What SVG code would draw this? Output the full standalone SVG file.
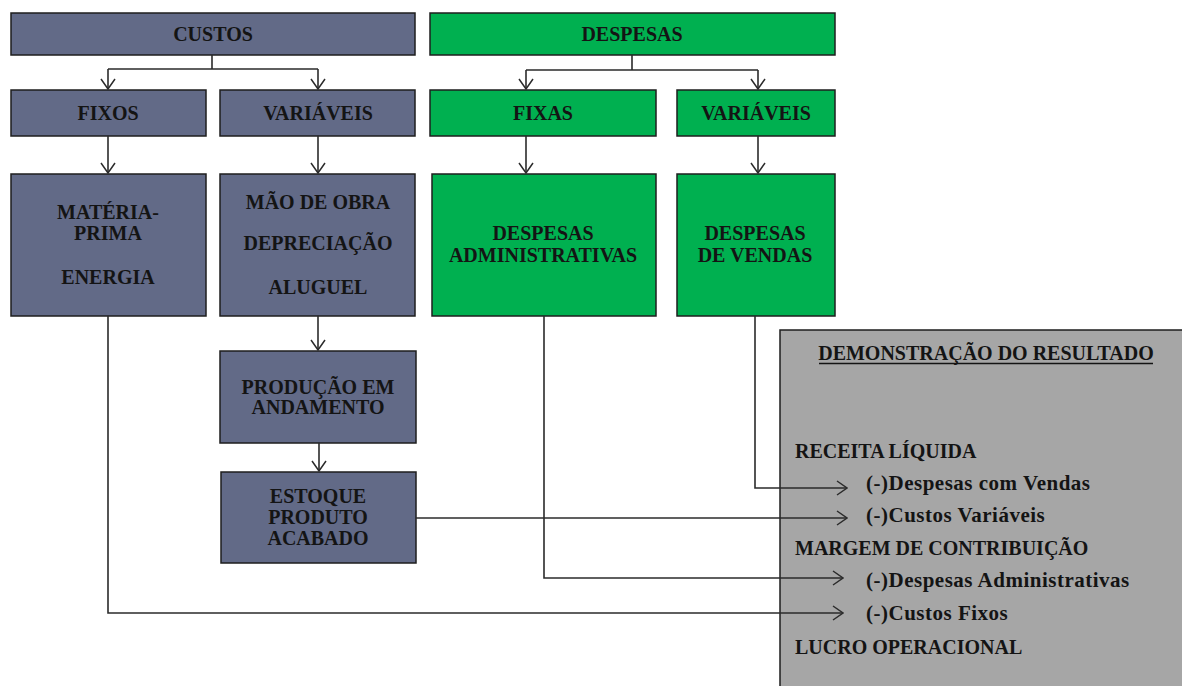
<svg xmlns="http://www.w3.org/2000/svg" width="1182" height="686" viewBox="0 0 1182 686">
<defs>
<marker id="arr" markerUnits="userSpaceOnUse" viewBox="0 0 12 16" markerWidth="12" markerHeight="16" refX="11" refY="8" orient="auto">
<path d="M1,1 L11,8 L1,15" fill="none" stroke="#2b2b2b" stroke-width="1.5"/>
</marker>
<style>
.c{fill:#626a87;stroke:#1e1e1e;stroke-width:1.5}
.g{fill:#00b050;stroke:#1e1e1e;stroke-width:1.5}
.d{fill:#a6a6a6;stroke:#1e1e1e;stroke-width:1.5}
text{font-family:"Liberation Serif","Times New Roman",serif;font-weight:bold;font-size:20px;fill:#141414}
.m{text-anchor:middle}
.s{font-size:21px;letter-spacing:0.5px}
.l{stroke:#2b2b2b;stroke-width:1.6;fill:none}
.a{marker-end:url(#arr)}
</style>
</defs>
<g id="custos"><rect class="c" x="11" y="13" width="404" height="42"/><text class="m" x="213" y="41">CUSTOS</text></g>
<g id="despesas"><rect class="g" x="430" y="13" width="405" height="42"/><text class="m" x="632" y="41">DESPESAS</text></g>
<g id="custos-fixos"><rect class="c" x="11" y="90" width="195" height="46"/><text class="m" x="108" y="120">FIXOS</text></g>
<g id="custos-variaveis"><rect class="c" x="220" y="90" width="195" height="46"/><text class="m" x="318" y="120">VARIÁVEIS</text></g>
<g id="despesas-fixas"><rect class="g" x="430" y="90" width="226" height="46"/><text class="m" x="543" y="120">FIXAS</text></g>
<g id="despesas-variaveis"><rect class="g" x="677" y="90" width="158" height="46"/><text class="m" x="756" y="120">VARIÁVEIS</text></g>
<g id="materia-prima"><rect class="c" x="11" y="174" width="195" height="142"/>
<text class="m" x="108" y="219">MATÉRIA-</text><text class="m" x="108" y="240">PRIMA</text><text class="m" x="108" y="284">ENERGIA</text></g>
<g id="mao-de-obra"><rect class="c" x="220" y="174" width="195" height="142"/>
<text class="m" x="318" y="209">MÃO DE OBRA</text><text class="m" x="318" y="250">DEPRECIAÇÃO</text><text class="m" x="318" y="294">ALUGUEL</text></g>
<g id="despesas-administrativas"><rect class="g" x="432" y="174" width="224" height="142"/>
<text class="m" x="543" y="240">DESPESAS</text><text class="m" x="543" y="262">ADMINISTRATIVAS</text></g>
<g id="despesas-de-vendas"><rect class="g" x="677" y="174" width="158" height="142"/>
<text class="m" x="755" y="240">DESPESAS</text><text class="m" x="755" y="262">DE VENDAS</text></g>
<g id="producao"><rect class="c" x="220" y="351" width="196" height="92"/>
<text class="m" x="318" y="394">PRODUÇÃO EM</text><text class="m" x="318" y="414">ANDAMENTO</text></g>
<g id="estoque"><rect class="c" x="221" y="472" width="195" height="91"/>
<text class="m" x="318" y="503">ESTOQUE</text><text class="m" x="318" y="524">PRODUTO</text><text class="m" x="318" y="545">ACABADO</text></g>
<g id="dre"><rect class="d" x="780" y="330" width="410" height="370"/>
<text class="m" x="986" y="360">DEMONSTRAÇÃO DO RESULTADO</text>
<line x1="819" y1="363.5" x2="1153" y2="363.5" stroke="#141414" stroke-width="1.3"/>
<text x="795" y="458">RECEITA LÍQUIDA</text>
<text class="s" x="866" y="490">(-)Despesas com Vendas</text>
<text class="s" x="866" y="522">(-)Custos Variáveis</text>
<text x="795" y="555">MARGEM DE CONTRIBUIÇÃO</text>
<text class="s" x="866" y="587">(-)Despesas Administrativas</text>
<text class="s" x="866" y="620">(-)Custos Fixos</text>
<text x="795" y="654">LUCRO OPERACIONAL</text></g>
<g id="connectors">
<path class="l" d="M212,55 V69 M108,69 H318"/>
<path class="l a" d="M108,69 V89"/>
<path class="l a" d="M318,69 V89"/>
<path class="l" d="M632,55 V70 M526,70 H758"/>
<path class="l a" d="M526,70 V89"/>
<path class="l a" d="M758,70 V89"/>
<path class="l a" d="M108,136 V173"/>
<path class="l a" d="M318,136 V173"/>
<path class="l a" d="M526,136 V173"/>
<path class="l a" d="M758,136 V173"/>
<path class="l a" d="M318,316 V350"/>
<path class="l a" d="M319,443 V471"/>
<path class="l a" d="M755,316 V488 H847"/>
<path class="l a" d="M416,518 H847"/>
<path class="l a" d="M544,316 V578 H843"/>
<path class="l a" d="M108,316 V613 H843"/>
</g>
</svg>
